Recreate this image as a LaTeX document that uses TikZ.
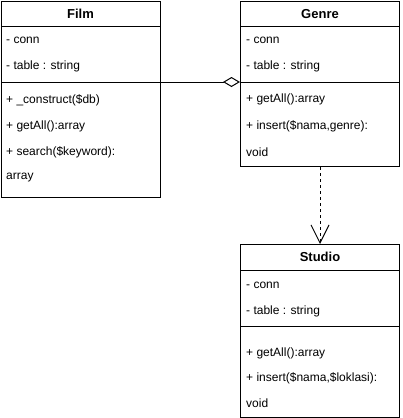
\documentclass[tikz,border=0pt]{standalone}
\usepackage{fontspec}
\setmainfont{Liberation Sans}
\usetikzlibrary{arrows.meta}
\begin{document}
\begin{tikzpicture}[x=1pt,y=-1pt,
  classbox/.style={draw,line width=1pt,fill=white,minimum width=159pt,anchor=north west,inner sep=0pt},
  title/.style={font=\fontsize{13}{15}\selectfont\bfseries,anchor=center,inner sep=0pt},
  member/.style={font=\fontsize{12}{14}\selectfont,anchor=west,inner sep=0pt},
  sepline/.style={line width=1pt}]
\useasboundingbox (0,0) rectangle (402,418);
% Film
\node[classbox,minimum height=196pt] (film) at (1,1) {};
\draw[sepline] (1,26) -- (160,26);
\draw[sepline] (1,82) -- (160,82);
\node[title] (filmt) at (80.5,14) {Film};
\node[member] (f1) at (6,40) {- conn};
\node[member] (f2) at (6,66) {- table : string};
\node[member] (f3) at (6,100) {+ \_construct(\$db)};
\node[member] (f4) at (6,126) {+ getAll():array};
\node[member] (f5) at (6,152) {+ search(\$keyword):};
\node[member] (f6) at (6,178) {array};
% Genre
\node[classbox,minimum height=165pt] (genre) at (240,1) {};
\draw[sepline] (240,26) -- (400,26);
\draw[sepline] (240,82) -- (400,82);
\coordinate (gsep) at (240,82);
\node[title] (genret) at (320,14) {Genre};
\node[member] (g1) at (246,40) {- conn};
\node[member] (g2) at (246,66) {- table : string};
\node[member] (g3) at (246,99) {+ getAll():array};
\node[member] (g4) at (246,126) {+ insert(\$nama,genre):};
\node[member] (g5) at (246,152) {void};
% Studio
\node[classbox,minimum height=173pt] (studio) at (240,244) {};
\draw[sepline] (240,270) -- (400,270);
\draw[sepline] (240,326) -- (400,326);
\node[title] (studiot) at (320,257) {Studio};
\node[member] (s1) at (246,285) {- conn};
\node[member] (s2) at (246,311) {- table : string};
\node[member] (s3) at (246,353) {+ getAll():array};
\node[member] (s4) at (246,378) {+ insert(\$nama,\$loklasi):};
\node[member] (s5) at (246,403) {void};
% connectors
\draw[line width=1pt,-{Diamond[open,fill=white,length=17pt,width=10pt,line width=1pt]}] (film.east |- gsep) -- (gsep);
\draw[line width=1pt,dash pattern=on 3pt off 3pt,-{Straight Barb[length=18pt,width=18pt,line width=1pt]}] (genre.south) -- (studio.north);
\end{tikzpicture}
\end{document}
